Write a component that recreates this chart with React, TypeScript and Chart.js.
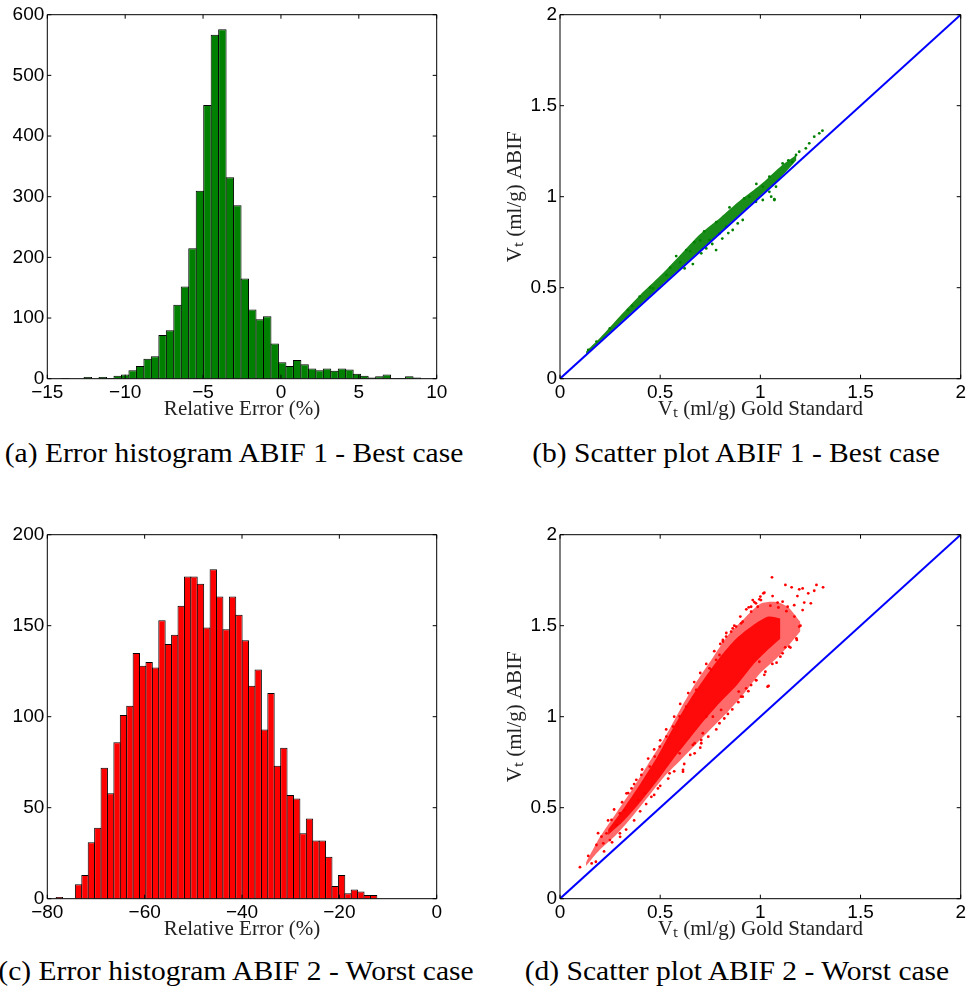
import React, { useEffect, useRef } from 'react';
import { Chart, registerables } from 'chart.js';

Chart.register(...registerables);

// ---------- (a) Error histogram ABIF 1 - Best case ----------
const histABinCenters = [
  -14.8, -14.32, -13.84, -13.36, -12.88, -12.4, -11.92, -11.44, -10.96, -10.48,
  -10.0, -9.52, -9.04, -8.56, -8.08, -7.6, -7.12, -6.64, -6.16, -5.68,
  -5.2, -4.72, -4.24, -3.76, -3.28, -2.8, -2.32, -1.84, -1.36, -0.88,
  -0.4, 0.08, 0.56, 1.04, 1.52, 2.0, 2.48, 2.96, 3.44, 3.92,
  4.4, 4.88, 5.36, 5.84, 6.32, 6.8, 7.28, 7.76, 8.24, 8.72,
];
const histACounts = [
  0, 0, 1, 0, 0, 3, 0, 3, 1, 5,
  7, 14, 21, 33, 37, 72, 80, 122, 152, 215,
  310, 451, 567, 576, 332, 286, 165, 114, 98, 103,
  58, 27, 21, 31, 24, 17, 14, 17, 13, 17,
  15, 8, 5, 2, 4, 7, 1, 1, 4, 2,
];
const histAXTicks = { min: -15, max: 10, step: 5 };
const histAYTicks = { min: 0, max: 600, step: 100 };

// ---------- (c) Error histogram ABIF 2 - Worst case ----------
const histCBinCenters = [
  -77.53, -76.21, -74.89, -73.58, -72.26, -70.94, -69.62, -68.3, -66.99, -65.67,
  -64.35, -63.03, -61.71, -60.4, -59.08, -57.76, -56.44, -55.12, -53.81, -52.49,
  -51.17, -49.85, -48.53, -47.22, -45.9, -44.58, -43.26, -41.94, -40.63, -39.31,
  -37.99, -36.67, -35.35, -34.04, -32.72, -31.4, -30.08, -28.76, -27.45, -26.13,
  -24.81, -23.49, -22.17, -20.86, -19.54, -18.22, -16.9, -15.58, -14.27, -12.95,
];
const histCCounts = [
  1, 0, 0, 8, 13, 31, 39, 72, 58, 86,
  101, 106, 135, 128, 130, 127, 153, 140, 145, 161,
  177, 177, 173, 149, 181, 166, 148, 166, 156, 142,
  117, 126, 93, 113, 73, 83, 57, 55, 36, 44,
  32, 32, 23, 7, 13, 3, 5, 4, 2, 2,
];
const histCXTicks = { min: -80, max: 0, step: 20 };
const histCYTicks = { min: 0, max: 200, step: 50 };

// ---------- scatter common ----------
const scatterTicks = { min: 0, max: 2, step: 0.5 };
const identityLineX = [0, 2];
const identityLineY = [0, 2];

// ---------- (b) Scatter plot ABIF 1 - Best case ----------
const bBandX = [0.13, 0.2, 0.3, 0.4, 0.5, 0.6, 0.7, 0.8, 0.9, 1.0, 1.1, 1.18];
const bBandUpper = [0.15, 0.225, 0.345, 0.46, 0.565, 0.68, 0.795, 0.885, 0.98, 1.065, 1.165, 1.23];
const bBandLower = [0.135, 0.205, 0.305, 0.405, 0.505, 0.605, 0.705, 0.805, 0.905, 1.005, 1.105, 1.2];
const bPoints: [number, number][] = [
  [0.141, 0.158], [0.182, 0.204], [0.249, 0.277], [0.34, 0.377], [0.398, 0.451],
  [0.464, 0.496], [0.531, 0.57], [0.58, 0.674], [0.63, 0.707], [0.622, 0.606],
  [0.663, 0.63], [0.705, 0.689], [0.73, 0.716], [0.746, 0.762], [0.779, 0.707],
  [0.796, 0.798], [0.829, 0.835], [0.862, 0.817], [0.887, 0.853], [0.912, 0.872],
  [0.846, 0.941], [0.945, 1.0], [0.978, 0.972], [1.012, 1.055], [1.045, 1.027],
  [1.078, 1.055], [1.07, 0.982], [1.012, 0.982], [1.045, 1.11], [1.111, 1.183],
  [1.178, 1.229], [1.194, 1.247], [1.244, 1.293], [1.269, 1.33], [1.294, 1.348],
  [1.31, 1.363], [1.227, 1.266], [1.07, 0.986], [1.054, 1.0], [0.76, 0.74],
  [0.81, 0.77], [0.84, 0.8], [0.7, 0.76], [0.65, 0.7], [0.6, 0.64],
  [0.55, 0.61], [0.67, 0.75], [0.72, 0.81], [0.78, 0.86], [0.92, 0.99],
  [0.98, 1.07], [1.14, 1.2], [1.16, 1.19], [0.45, 0.5], [0.36, 0.4],
];

// ---------- (d) Scatter plot ABIF 2 - Worst case ----------
const dOuterX = [0.13, 0.2, 0.28, 0.36, 0.44, 0.52, 0.6, 0.68, 0.76, 0.84, 0.92, 1.0, 1.08, 1.14, 1.2];
const dOuterUpper = [0.2, 0.34, 0.47, 0.6, 0.74, 0.88, 1.04, 1.19, 1.32, 1.45, 1.54, 1.62, 1.63, 1.6, 1.52];
const dOuterLower = [0.18, 0.27, 0.35, 0.45, 0.56, 0.67, 0.76, 0.85, 0.94, 1.03, 1.13, 1.24, 1.32, 1.39, 1.47];
const dInnerX = [0.24, 0.32, 0.4, 0.48, 0.56, 0.64, 0.72, 0.8, 0.88, 0.96, 1.04, 1.1];
const dInnerUpper = [0.38, 0.5, 0.63, 0.77, 0.93, 1.08, 1.21, 1.33, 1.43, 1.5, 1.55, 1.54];
const dInnerLower = [0.35, 0.43, 0.53, 0.64, 0.76, 0.87, 0.98, 1.08, 1.17, 1.28, 1.37, 1.43];
const dPoints: [number, number][] = [
  [1.058, 1.766], [1.125, 1.724], [1.156, 1.711], [1.194, 1.7], [1.211, 1.705],
  [1.28, 1.724], [1.313, 1.711], [1.239, 1.678], [1.269, 1.692], [1.015, 1.678],
  [0.995, 1.645], [0.962, 1.641], [0.942, 1.601], [0.954, 1.577], [0.987, 1.604],
  [1.061, 1.663], [1.086, 1.627], [1.111, 1.632], [1.136, 1.604], [1.169, 1.613],
  [1.185, 1.663], [1.219, 1.627], [1.252, 1.623], [1.211, 1.586], [1.194, 1.495],
  [1.182, 1.422], [1.144, 1.385], [1.124, 1.381], [1.111, 1.348], [1.081, 1.297],
  [1.041, 1.169], [1.025, 1.247], [0.995, 1.302], [0.978, 1.201], [0.954, 1.174],
  [0.929, 1.156], [0.904, 1.11], [0.892, 1.138], [0.838, 1.015], [0.804, 1.037],
  [0.796, 0.964], [0.763, 1.0], [0.713, 0.909], [0.705, 0.854], [0.672, 0.799],
  [0.663, 0.845], [0.614, 0.708], [0.912, 1.522], [0.862, 1.485], [0.813, 1.422],
  [0.854, 1.467], [0.779, 1.312], [0.755, 1.257], [0.0995, 0.173], [0.141, 0.235],
  [0.158, 0.194], [0.179, 0.203], [0.182, 0.295], [0.207, 0.341], [0.216, 0.304],
  [0.232, 0.359], [0.257, 0.433], [0.249, 0.322], [0.282, 0.405], [0.299, 0.469],
  [0.299, 0.359], [0.323, 0.487], [0.332, 0.579], [0.357, 0.606], [0.381, 0.653],
  [0.39, 0.542], [0.406, 0.68], [0.423, 0.579], [0.448, 0.726], [0.456, 0.56],
  [0.473, 0.781], [0.489, 0.606], [0.498, 0.836], [0.531, 0.891], [0.547, 0.689],
  [0.564, 0.946], [0.597, 0.799], [0.597, 1.001], [0.614, 0.698], [0.63, 1.055],
  [0.672, 0.854], [0.68, 1.147], [0.705, 0.872], [0.73, 1.001], [0.746, 1.266],
  [0.796, 1.339], [0.813, 1.412], [0.829, 1.44], [0.879, 1.495], [0.904, 1.513],
  [0.912, 1.11], [0.954, 1.604], [0.978, 1.623], [1.003, 1.641], [1.02, 1.681],
  [1.036, 1.165],
  [0.19, 0.36], [0.24, 0.43], [0.27, 0.49], [0.31, 0.53], [0.34, 0.58],
  [0.37, 0.63], [0.41, 0.71], [0.44, 0.77], [0.47, 0.82], [0.5, 0.87],
  [0.53, 0.93], [0.57, 1.0], [0.6, 1.07], [0.64, 1.13], [0.67, 1.19],
  [0.7, 1.24], [0.73, 1.29], [0.77, 1.36], [0.8, 1.4], [0.83, 1.46],
  [0.87, 1.5], [0.9, 1.55], [0.93, 1.59], [0.97, 1.63], [1.0, 1.66],
  [0.22, 0.26], [0.26, 0.31], [0.3, 0.34], [0.33, 0.38], [0.37, 0.43],
  [0.4, 0.48], [0.43, 0.52], [0.47, 0.57], [0.5, 0.62], [0.54, 0.66],
  [0.57, 0.7], [0.62, 0.74], [0.65, 0.79], [0.7, 0.83], [0.74, 0.89],
  [0.78, 0.93], [0.82, 0.99], [0.86, 1.04], [0.89, 1.08], [0.94, 1.14],
  [0.98, 1.2], [1.02, 1.23], [1.06, 1.29], [1.1, 1.33], [1.15, 1.38],
  [1.18, 1.43], [1.2, 1.5], [1.17, 1.55], [1.13, 1.58], [1.09, 1.6],
  [1.05, 1.61],
];

// ---------- captions / titles ----------
const captions = [
  '(a) Error histogram ABIF 1 - Best case',
  '(b) Scatter plot ABIF 1 - Best case',
  '(c) Error histogram ABIF 2 - Worst case',
  '(d) Scatter plot ABIF 2 - Worst case',
];
const histXTitle = 'Relative Error (%)';
const scatterXTitle = 'Vₜ (ml/g) Gold Standard';
const scatterYTitle = 'Vₜ (ml/g) ABIF';

const TICK_FONT = { family: '"Liberation Sans", Arial, sans-serif', size: 19 };
const TITLE_FONT = { family: '"Liberation Serif", "Times New Roman", serif', size: 21 };

const boxPlugin = {
  id: 'matlabBox',
  afterDraw(chart: any) {
    const { ctx, chartArea: a, scales } = chart;
    const L = 4;
    ctx.save();
    ctx.strokeStyle = '#000';
    ctx.lineWidth = 1;
    ctx.beginPath();
    ctx.rect(a.left, a.top, a.right - a.left, a.bottom - a.top);
    const xs = scales.x;
    const ys = scales.y;
    xs.ticks.forEach((t: any) => {
      const px = xs.getPixelForValue(t.value);
      ctx.moveTo(px, a.bottom);
      ctx.lineTo(px, a.bottom - L);
      ctx.moveTo(px, a.top);
      ctx.lineTo(px, a.top + L);
    });
    ys.ticks.forEach((t: any) => {
      const py = ys.getPixelForValue(t.value);
      ctx.moveTo(a.left, py);
      ctx.lineTo(a.left + L, py);
      ctx.moveTo(a.right, py);
      ctx.lineTo(a.right - L, py);
    });
    ctx.stroke();
    ctx.restore();
  },
};

const fmt = (v: any) => String(v).replace('-', '\u2212');

type HistProps = {
  left: number; top: number;
  centers: number[]; counts: number[]; color: string;
  xt: { min: number; max: number; step: number };
  yt: { min: number; max: number; step: number };
  barPct: number;
};

function Histogram(p: HistProps) {
  const ref = useRef<HTMLCanvasElement>(null);
  useEffect(() => {
    const chart = new Chart(ref.current as HTMLCanvasElement, {
      type: 'bar',
      data: {
        datasets: [
          {
            data: p.centers.map((c, i) => ({ x: c, y: p.counts[i] })),
            backgroundColor: p.color,
            borderColor: '#000',
            borderWidth: 1,
            barPercentage: p.barPct,
            categoryPercentage: 1,
          } as any,
        ],
      },
      options: {
        responsive: false,
        animation: false,
        devicePixelRatio: 1,
        events: [],
        layout: { padding: { top: 14.7, right: 33.3, bottom: 8.3, left: 0 } },
        plugins: { legend: { display: false }, tooltip: { enabled: false } },
        scales: {
          x: {
            type: 'linear',
            min: p.xt.min,
            max: p.xt.max,
            offset: false,
            grid: { display: false, drawTicks: false, offset: false },
            border: { display: false },
            ticks: { stepSize: p.xt.step, font: TICK_FONT, color: '#000', padding: 3, maxRotation: 0, autoSkip: false, callback: fmt },
            title: { display: true, text: histXTitle, font: TITLE_FONT, color: '#222', padding: { top: 0, bottom: 0 } },
            afterFit: (s: any) => { s.height = 43; },
          },
          y: {
            type: 'linear',
            min: p.yt.min,
            max: p.yt.max,
            grid: { display: false, drawTicks: false },
            border: { display: false },
            ticks: { stepSize: p.yt.step, font: TICK_FONT, color: '#000', padding: 3, callback: fmt },
            afterFit: (s: any) => { s.width = 47.3; },
          },
        },
      } as any,
      plugins: [boxPlugin],
    });
    return () => chart.destroy();
  }, []);
  return <canvas ref={ref} width={470} height={430} style={{ position: 'absolute', left: p.left, top: p.top }} />;
}

type Band = { x: number[]; upper: number[]; lower: number[]; color: string };
type ScatterProps = { left: number; top: number; points: [number, number][]; color: string; bands: Band[] };

function Scatter(p: ScatterProps) {
  const ref = useRef<HTMLCanvasElement>(null);
  useEffect(() => {
    const datasets: any[] = [
      {
        type: 'line',
        data: identityLineX.map((x, i) => ({ x, y: identityLineY[i] })),
        borderColor: '#0000ff',
        borderWidth: 2,
        pointRadius: 0,
        fill: false,
      },
      {
        type: 'scatter',
        data: p.points.map(([x, y]) => ({ x, y })),
        backgroundColor: p.color,
        borderWidth: 0,
        pointRadius: 1.4,
      },
    ];
    p.bands.forEach((b) => {
      datasets.push({
        type: 'line',
        data: b.x.map((x, i) => ({ x, y: b.upper[i] })),
        borderColor: 'rgba(0,0,0,0)',
        borderWidth: 0,
        pointRadius: 0,
        tension: 0.25,
        backgroundColor: b.color,
        fill: '+1',
      });
      datasets.push({
        type: 'line',
        data: b.x.map((x, i) => ({ x, y: b.lower[i] })),
        borderColor: 'rgba(0,0,0,0)',
        borderWidth: 0,
        pointRadius: 0,
        tension: 0.25,
        fill: false,
      });
    });
    const chart = new Chart(ref.current as HTMLCanvasElement, {
      type: 'scatter',
      data: { datasets },
      options: {
        responsive: false,
        animation: false,
        devicePixelRatio: 1,
        events: [],
        layout: { padding: { top: 14.7, right: 7, bottom: 8.3, left: 0 } },
        plugins: { legend: { display: false }, tooltip: { enabled: false } },
        scales: {
          x: {
            type: 'linear',
            min: scatterTicks.min,
            max: scatterTicks.max,
            grid: { display: false, drawTicks: false },
            border: { display: false },
            ticks: { stepSize: scatterTicks.step, font: TICK_FONT, color: '#000', padding: 3, maxRotation: 0, autoSkip: false, callback: fmt },
            title: { display: true, text: scatterXTitle, font: TITLE_FONT, color: '#222', padding: { top: 0, bottom: 0 } },
            afterFit: (s: any) => { s.height = 43; },
          },
          y: {
            type: 'linear',
            min: scatterTicks.min,
            max: scatterTicks.max,
            grid: { display: false, drawTicks: false },
            border: { display: false },
            ticks: { stepSize: scatterTicks.step, font: TICK_FONT, color: '#000', padding: 3, callback: fmt },
            title: { display: true, text: scatterYTitle, font: TITLE_FONT, color: '#222', padding: { top: 6, bottom: 0 } },
            afterFit: (s: any) => { s.width = 63; },
          },
        },
      } as any,
      plugins: [boxPlugin],
    });
    return () => chart.destroy();
  }, []);
  return <canvas ref={ref} width={472} height={430} style={{ position: 'absolute', left: p.left, top: p.top }} />;
}

const captionStyle = (cx: number, top: number): React.CSSProperties => ({
  position: 'absolute',
  left: cx - 280,
  width: 560,
  top,
  textAlign: 'center',
  fontFamily: '"Liberation Serif", "Times New Roman", serif',
  fontSize: 27,
  lineHeight: '30px',
  color: '#000',
  whiteSpace: 'nowrap',
  transform: 'scaleX(1.094)',
  transformOrigin: 'center',
});

export default function App() {
  return (
    <div style={{ position: 'absolute', left: 0, top: 0, width: 969, height: 990, background: '#fff', overflow: 'hidden' }}>
      <Histogram left={0} top={0} centers={histABinCenters} counts={histACounts} color="#008000" xt={histAXTicks} yt={histAYTicks} barPct={1.13} />
      <Scatter
        left={497}
        top={0}
        points={bPoints}
        color="#008000"
        bands={[{ x: bBandX, upper: bBandUpper, lower: bBandLower, color: 'rgba(0,128,0,0.9)' }]}
      />
      <Histogram left={0} top={520} centers={histCBinCenters} counts={histCCounts} color="#ff0000" xt={histCXTicks} yt={histCYTicks} barPct={1.156} />
      <Scatter
        left={497}
        top={520}
        points={dPoints}
        color="#ff0000"
        bands={[
          { x: dInnerX, upper: dInnerUpper, lower: dInnerLower, color: 'rgba(255,0,0,0.9)' },
          { x: dOuterX, upper: dOuterUpper, lower: dOuterLower, color: 'rgba(255,0,0,0.58)' },
        ]}
      />
      <div style={captionStyle(234, 438)}>{captions[0]}</div>
      <div style={captionStyle(736, 438)}>{captions[1]}</div>
      <div style={captionStyle(236, 956)}>{captions[2]}</div>
      <div style={captionStyle(737, 956)}>{captions[3]}</div>
    </div>
  );
}
